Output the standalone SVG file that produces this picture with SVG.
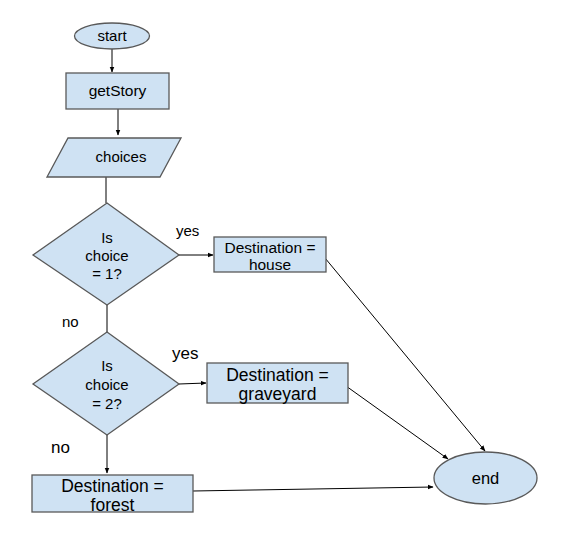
<svg xmlns="http://www.w3.org/2000/svg" width="588" height="533" viewBox="0 0 588 533">
<style>
.n{fill:#cfe2f3;stroke:#595959;stroke-width:1.3}
.t{font-family:"Liberation Sans",Arial,sans-serif;fill:#000;text-anchor:middle}
.c{stroke:#000;stroke-width:1;fill:none;marker-end:url(#ah)}
.l{font-family:"Liberation Sans",Arial,sans-serif;fill:#000}
</style>
<defs>
<marker id="ah" viewBox="0 0 10 10" refX="9" refY="5" markerWidth="6" markerHeight="6" orient="auto" markerUnits="userSpaceOnUse">
<path d="M0,1 L10,5 L0,9 z" fill="#000"/>
</marker>
</defs>
<rect width="588" height="533" fill="#fff"/>
<g id="connectors">
<line class="c" x1="112" y1="49" x2="112" y2="72"/>
<line class="c" x1="118" y1="109" x2="118" y2="135"/>
<line x1="106" y1="177" x2="106" y2="203" stroke="#000" stroke-width="1"/>
<line class="c" x1="179" y1="255" x2="213" y2="255"/>
<line x1="107" y1="305" x2="107" y2="333" stroke="#000" stroke-width="1"/>
<line class="c" x1="179" y1="384" x2="206" y2="383"/>
<line class="c" x1="107" y1="435" x2="107" y2="473"/>
<line class="c" x1="325" y1="258" x2="485" y2="451"/>
<line class="c" x1="346" y1="386" x2="448" y2="459"/>
<line class="c" x1="193" y1="491" x2="433" y2="487"/>
<text class="l" x="176" y="236" font-size="15">yes</text>
<text class="l" x="62" y="327" font-size="15">no</text>
<text class="l" x="172" y="359" font-size="17">yes</text>
<text class="l" x="51" y="453" font-size="17">no</text>
</g>
<g id="start">
<ellipse class="n" cx="112" cy="36" rx="37.5" ry="13"/>
<text class="t" x="112" y="41" font-size="15">start</text>
</g>
<g id="getStory">
<rect class="n" x="66" y="73" width="103" height="36"/>
<text class="t" x="117.5" y="96" font-size="15.5">getStory</text>
</g>
<g id="choices">
<polygon class="n" points="68,138 181,138 160,177 47,177"/>
<text class="t" x="121" y="162" font-size="15">choices</text>
</g>
<g id="decision1">
<polygon class="n" points="107,203 179,255 107,305 33,255"/>
<text class="t" x="107" y="243" font-size="15">Is</text>
<text class="t" x="107" y="261" font-size="15">choice</text>
<text class="t" x="107" y="279" font-size="15">= 1?</text>
</g>
<g id="house">
<rect class="n" x="214" y="237" width="112" height="35"/>
<text class="t" x="270" y="253" font-size="15.5">Destination =</text>
<text class="t" x="270" y="270" font-size="15.5">house</text>
</g>
<g id="decision2">
<polygon class="n" points="107,332 179,384 107,435 33,384"/>
<text class="t" x="107" y="371" font-size="15">Is</text>
<text class="t" x="107" y="390" font-size="15">choice</text>
<text class="t" x="107" y="409" font-size="15">= 2?</text>
</g>
<g id="graveyard">
<rect class="n" x="207" y="363" width="141" height="40"/>
<text class="t" x="277.5" y="381" font-size="17.5">Destination =</text>
<text class="t" x="277.5" y="400" font-size="17.5">graveyard</text>
</g>
<g id="forest">
<rect class="n" x="32" y="475" width="161" height="37"/>
<text class="t" x="112.5" y="492" font-size="17.5">Destination =</text>
<text class="t" x="112.5" y="511" font-size="17.5">forest</text>
</g>
<g id="end">
<ellipse class="n" cx="485.5" cy="478" rx="51.5" ry="26"/>
<text class="t" x="485.5" y="484" font-size="16.5">end</text>
</g>
</svg>
